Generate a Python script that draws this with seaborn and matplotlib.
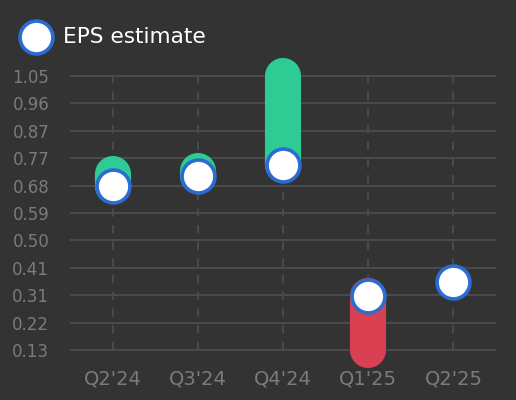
import matplotlib
matplotlib.use("Agg")
import matplotlib.pyplot as plt
import numpy as np
import pandas as pd
import seaborn as sns

quarters = ["Q2'24", "Q3'24", "Q4'24", "Q1'25", "Q2'25"]
eps_estimate = [0.68, 0.715, 0.75, 0.31, 0.36]
eps_actual = [0.72, 0.73, 1.05, 0.13, np.nan]
y_tick_labels = ["0.13", "0.22", "0.31", "0.41", "0.50", "0.59", "0.68", "0.77", "0.87", "0.96", "1.05"]

BG = "#333333"
GRID = "#4a4a4a"
TICK = "#7b7b7b"
BEAT = "#2ecc94"
MISS = "#d94052"
RING = "#2b6cd4"

sns.set_theme(style="dark")
plt.rcParams["font.family"] = ["DejaVu Sans"]

df = pd.DataFrame({"quarter": quarters, "estimate": eps_estimate, "actual": eps_actual})
df["x"] = np.arange(len(df))

fig = plt.figure(figsize=(5.16, 4.0), dpi=100, facecolor=BG)
# data range 0.13..1.05 sits between pixel rows 350 and 76
lo, hi = 0.08, 1.10
ppu = 274 / 0.92
top_px = 76 - (hi - 1.05) * ppu
bot_px = 350 + (0.13 - lo) * ppu
ax = fig.add_axes([70 / 516, (400 - bot_px) / 400, 426 / 516, (bot_px - top_px) / 400])
ax.set_facecolor(BG)
ax.set_xlim(-0.5, len(df) - 0.5)
ax.set_ylim(lo, hi)

y_ticks = np.linspace(0.13, 1.05, len(y_tick_labels))
ax.set_yticks(y_ticks, y_tick_labels)
ax.set_xticks(df["x"], df["quarter"])
for yv in y_ticks:
    ax.axhline(yv, color=GRID, lw=1.5, zorder=0)
ax.vlines(df["x"], y_ticks[0], y_ticks[-1], colors=GRID, lw=1.5,
          linestyles=(0, (4, 4)), zorder=0)

done = df.dropna(subset=["actual"])
bar_colors = [BEAT if a >= e else MISS for a, e in zip(done["actual"], done["estimate"])]
ax.vlines(done["x"], done["estimate"], done["actual"], colors=bar_colors,
          lw=26, capstyle="round", zorder=2, clip_on=False)

sns.scatterplot(data=df, x="x", y="estimate", ax=ax, s=560, color="white",
                edgecolor=RING, linewidth=2.6, zorder=3, label="EPS estimate", clip_on=False)

for s in ax.spines.values():
    s.set_visible(False)
ax.set_xlabel("")
ax.set_ylabel("")
ax.tick_params(axis="y", length=0, pad=15, labelsize=12, labelcolor=TICK)
ax.tick_params(axis="x", length=0, pad=3, labelsize=14, labelcolor=TICK)

ax.get_legend().remove()
handles, labels = ax.get_legend_handles_labels()
leg = fig.legend(handles, labels, loc="center left", bbox_to_anchor=(18 / 516, 1 - 37 / 400),
                 frameon=False, fontsize=15.6, borderpad=0, borderaxespad=0,
                 handlelength=1.7, handletextpad=0.4, labelcolor="white")

fig.savefig("out.png", dpi=100, facecolor=BG)
